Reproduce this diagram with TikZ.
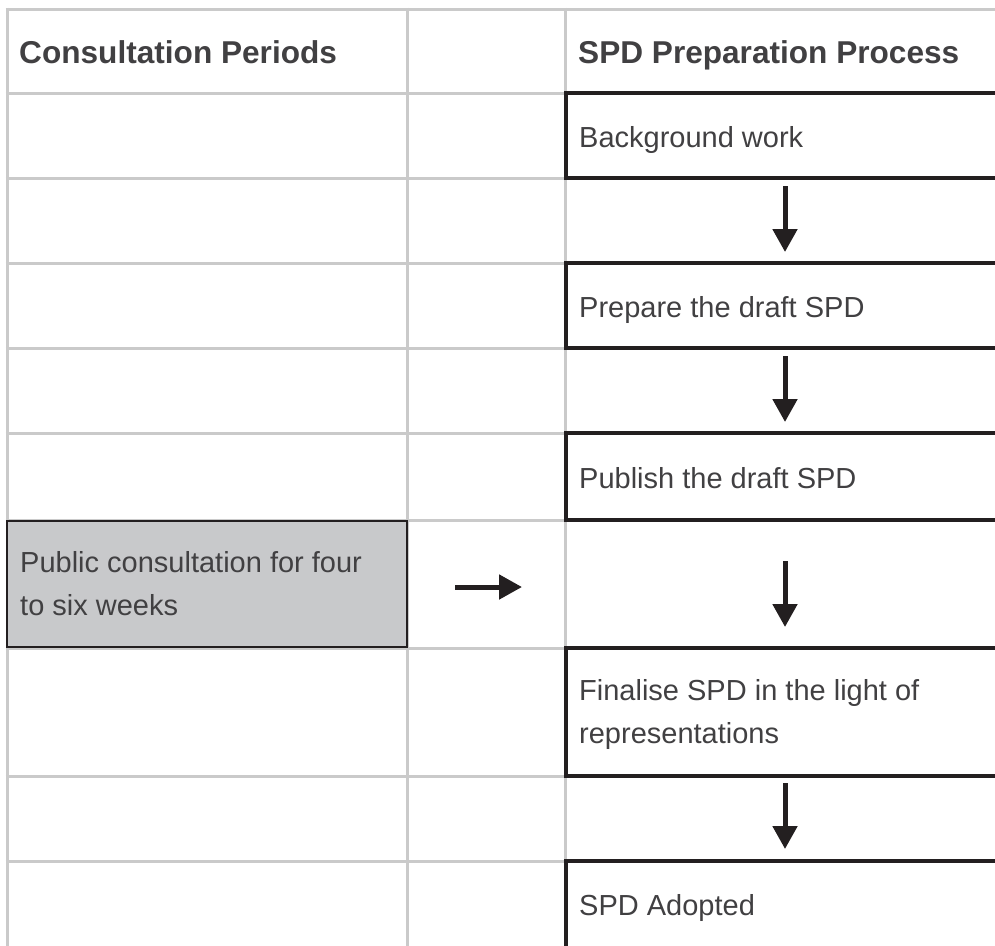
\documentclass[tikz,border=0pt]{standalone}
\usepackage{fontspec}
\setmainfont{Liberation Sans}
\usetikzlibrary{arrows.meta}
\definecolor{gridgray}{HTML}{CACACA}
\definecolor{inkblack}{HTML}{231F20}
\definecolor{textgray}{HTML}{414042}
\definecolor{fillgray}{HTML}{C8C9CB}
\begin{document}
\begin{tikzpicture}[x=1pt,y=-1pt,
  gridline/.style={draw=gridgray, line width=3pt},
  procbox/.style={draw=inkblack, line width=4.2pt, rectangle, inner sep=0pt, outer sep=0pt, anchor=north west, minimum width=600pt},
  consbox/.style={draw=inkblack, fill=fillgray, line width=2.5pt, rectangle, inner sep=0pt, outer sep=0pt, anchor=north west, minimum width=400pt, minimum height=126pt},
  lbl/.style={inner sep=0pt, anchor=base west, text=textgray, font=\fontsize{29}{43}\selectfont},
  hdr/.style={inner sep=0pt, anchor=base west, text=textgray, font=\fontsize{31.6}{40}\selectfont\bfseries},
  arr/.style={draw=inkblack, line width=5pt, -{Triangle[length=23pt,width=24pt]}}]
\useasboundingbox (0,0) rectangle (995,945);
\clip (0,0) rectangle (995,945);
% grid
\foreach \yy in {9,93,178,263,348,433,520,648,776,861}
  \draw[gridline] (5.5,\yy) -- (1000,\yy);
\foreach \xx in {7,407,565}
  \draw[gridline] (\xx,7.5) -- (\xx,950);
% process boxes
\node[procbox, minimum height=85pt] (bg) at (566,93) {};
\node[procbox, minimum height=85pt] (prep) at (566,263) {};
\node[procbox, minimum height=87pt] (pub) at (566,433) {};
\node[procbox, minimum height=128pt] (fin) at (566,648) {};
\node[procbox, minimum height=120pt] (adopt) at (566,861) {};
% consultation box
\node[consbox] (cons) at (7,521) {};
% texts
\node[hdr] (h1) at (19,63) {Consultation Periods};
\node[hdr] (h2) at (578,63) {SPD Preparation Process};
\node[lbl] (t1) at (579,147) {Background work};
\node[lbl] (t2) at (579,317) {Prepare the draft SPD};
\node[lbl] (t3) at (579,488) {Publish the draft SPD};
\node[lbl] (t4) at (20,572) {\begin{tabular}[t]{@{}l@{}}Public consultation for four\\to six weeks\end{tabular}};
\node[lbl] (t5) at (579,700) {\begin{tabular}[t]{@{}l@{}}Finalise SPD in the light of\\representations\end{tabular}};
\node[lbl] (t6) at (579,915) {SPD Adopted};
% arrows
\coordinate (ax) at (785,0);
\draw[arr, shorten <=8pt, shorten >=11pt] (bg.south -| ax) -- (prep.north -| ax);
\draw[arr, shorten <=8pt, shorten >=11pt] (prep.south -| ax) -- (pub.north -| ax);
\draw[arr, shorten <=41pt, shorten >=21pt] (pub.south -| ax) -- (fin.north -| ax);
\draw[arr, shorten <=7pt, shorten >=12pt] (fin.south -| ax) -- (adopt.north -| ax);
\coordinate (hend) at (522,587);
\draw[arr, shorten <=48pt] (cons.east |- hend) -- (hend);
\end{tikzpicture}
\end{document}
